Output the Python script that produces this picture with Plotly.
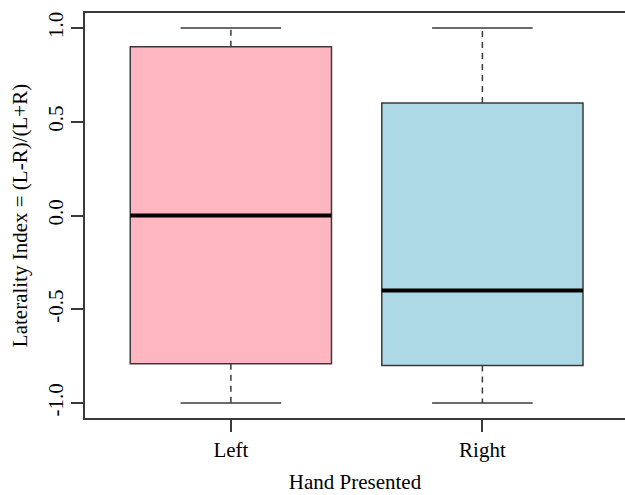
import plotly.graph_objects as go

categories = ["Left", "Right"]
q1_vals = [-0.79, -0.80]
median_vals = [0.0, -0.40]
q3_vals = [0.90, 0.60]
lower_vals = [-1.0, -1.0]
upper_vals = [1.0, 1.0]
fill_colors = ["#FFB6C1", "#ADD8E6"]
y_tickvals = [-1.0, -0.5, 0.0, 0.5, 1.0]
y_ticktext = ["-1.0", "-0.5", "0.0", "0.5", "1.0"]

FONT = "Liberation Serif, Times New Roman, serif"
LINE = "#3a3a3a"
BOX_W = 0.8
CAP_W = 0.4

fig = go.Figure()
positions = list(range(1, len(categories) + 1))

for i, pos in enumerate(positions):
    fig.add_trace(go.Scatter(
        x=[pos, pos, None, pos, pos],
        y=[q3_vals[i], upper_vals[i], None, q1_vals[i], lower_vals[i]],
        mode="lines", line=dict(color=LINE, width=1.5, dash="6px,5px"),
        hoverinfo="skip", showlegend=False))
    fig.add_trace(go.Scatter(
        x=[pos - CAP_W / 2, pos + CAP_W / 2, None, pos - CAP_W / 2, pos + CAP_W / 2],
        y=[upper_vals[i], upper_vals[i], None, lower_vals[i], lower_vals[i]],
        mode="lines", line=dict(color=LINE, width=1.5),
        hoverinfo="skip", showlegend=False))
    fig.add_trace(go.Box(
        x=[pos], q1=[q1_vals[i]], median=[median_vals[i]], q3=[q3_vals[i]],
        lowerfence=[q1_vals[i]], upperfence=[q3_vals[i]],
        width=BOX_W, fillcolor=fill_colors[i],
        line=dict(color=LINE, width=1.5), whiskerwidth=0,
        boxpoints=False, hoverinfo="skip", showlegend=False))
    fig.add_trace(go.Scatter(
        x=[pos - BOX_W / 2, pos + BOX_W / 2],
        y=[median_vals[i], median_vals[i]],
        mode="lines", line=dict(color="black", width=4),
        hoverinfo="skip", showlegend=False))

fig.update_layout(
    width=625, height=495,
    margin=dict(l=85, r=0, t=13, b=77),
    plot_bgcolor="white", paper_bgcolor="white",
    font=dict(family=FONT, size=21, color="black"),
    showlegend=False,
    xaxis=dict(
        range=[0.42, 2.567], tickmode="array", tickvals=positions, ticktext=categories,
        tickfont=dict(family=FONT, size=21, color="black"),
        showgrid=False, zeroline=False, showline=True, mirror=True,
        linecolor=LINE, linewidth=1.5, ticks="outside", ticklen=12,
        tickcolor=LINE, tickwidth=1.5,
        title=dict(text="Hand Presented", standoff=13,
                   font=dict(family=FONT, size=21, color="black")),
    ),
    yaxis=dict(
        range=[-1.08, 1.08], tickmode="array", tickvals=y_tickvals, ticktext=y_ticktext,
        tickangle=-90,
        tickfont=dict(family=FONT, size=21, color="black"),
        showgrid=False, zeroline=False, showline=True, mirror=False,
        linecolor=LINE, linewidth=1.5, ticks="outside", ticklen=12,
        tickcolor=LINE, tickwidth=1.5,
        title=dict(text="Laterality Index = (L-R)/(L+R)", standoff=10,
                   font=dict(family=FONT, size=21, color="black")),
    ),
)

fig.write_html(
    "out.html",
    config={"displayModeBar": False},
    post_script="document.body.style.margin='0';document.body.style.overflow='hidden';",
)
